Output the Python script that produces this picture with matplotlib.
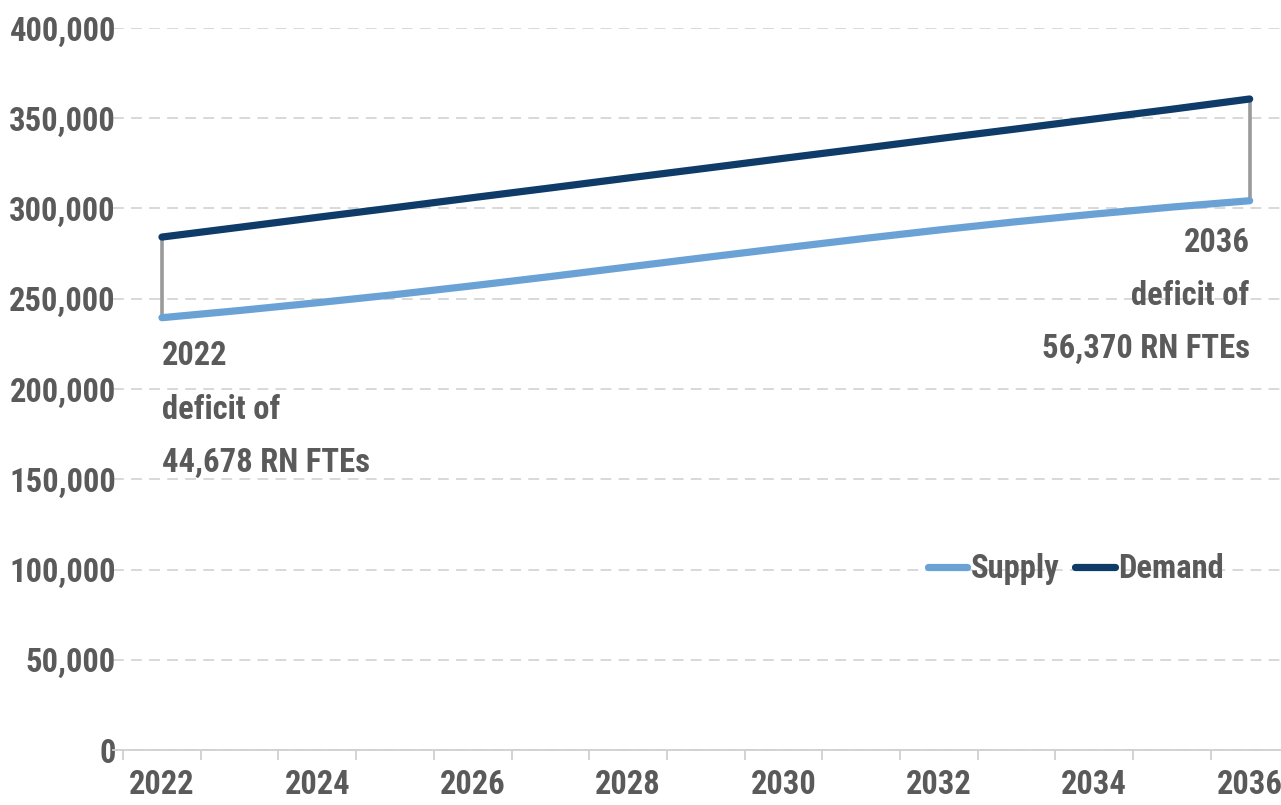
import matplotlib
matplotlib.use("Agg")
import matplotlib.pyplot as plt
from matplotlib.ticker import FuncFormatter, MultipleLocator, FixedLocator
import numpy as np

YEARS = list(range(2022, 2037))
SUPPLY = [239500, 243500, 247800, 252300, 257200, 262300, 267600, 272900,
          278100, 283200, 288100, 292700, 296900, 300800, 304300]
DEMAND = [284178, 289600, 295100, 300500, 306000, 311400, 316900, 322300,
          327800, 333200, 338700, 344100, 349600, 355000, 360670]
LABEL_YEARS = YEARS[::2]
NOTE_START = "2022\ndeficit of\n44,678 RN FTEs"
NOTE_END = "2036\ndeficit of\n56,370 RN FTEs"

SUPPLY_COLOR = "#6aa2d6"
DEMAND_COLOR = "#0f3b68"
TEXT_COLOR = "#5a5a5a"

plt.rcParams["font.family"] = ["Roboto Condensed", "Liberation Sans Narrow",
                               "DejaVu Sans Condensed", "DejaVu Sans"]
plt.rcParams["font.stretch"] = "condensed"
plt.rcParams["font.weight"] = "bold"

fig = plt.figure(figsize=(12.81, 8.05), dpi=100)
ax = fig.add_axes([113 / 1281, 55 / 805, 1175.5 / 1281, 722 / 805])

x = np.arange(len(YEARS))
# gap connectors at both ends
for i in (0, len(YEARS) - 1):
    ax.plot([x[i], x[i]], [SUPPLY[i], DEMAND[i]], color="#9a9a9a", lw=2.6,
            solid_capstyle="butt", zorder=2)
ax.plot(x, SUPPLY, color=SUPPLY_COLOR, lw=5.2, label="Supply",
        solid_capstyle="round", zorder=3)
ax.plot(x, DEMAND, color=DEMAND_COLOR, lw=5.2, label="Demand",
        solid_capstyle="round", zorder=3)

ax.set_xlim(-0.63, len(YEARS) - 0.5)
ax.set_ylim(0, 400000)
ax.yaxis.set_major_locator(MultipleLocator(50000))
ax.yaxis.set_major_formatter(FuncFormatter(lambda v, p: f"{int(v):,}"))
ax.grid(axis="y", color="#d6d6d6", lw=1.3, linestyle=(0, (6, 4)))
ax.set_axisbelow(True)

ax.xaxis.set_major_locator(FixedLocator([YEARS.index(y) for y in LABEL_YEARS]))
ax.set_xticklabels([str(y) for y in LABEL_YEARS])
ax.xaxis.set_minor_locator(FixedLocator(np.arange(-0.5, len(YEARS), 1.0)))
ax.tick_params(axis="x", which="major", length=0, pad=14, labelsize=23.5,
               labelcolor=TEXT_COLOR)
ax.tick_params(axis="x", which="minor", length=7, width=1.3, color="#d0d0d0")
ax.tick_params(axis="y", length=0, pad=-2, labelsize=23.5, labelcolor=TEXT_COLOR)

for side in ("top", "right", "left"):
    ax.spines[side].set_visible(False)
ax.spines["bottom"].set_color("#d0d0d0")
ax.spines["bottom"].set_linewidth(1.3)

ax.text(x[0], 227000, NOTE_START, ha="left", va="top", fontsize=23.5,
        color=TEXT_COLOR, linespacing=1.85)
ax.text(x[-1], 290000, NOTE_END, ha="right", va="top", fontsize=23.5,
        color=TEXT_COLOR, linespacing=1.85)

fig.legend(loc="center left", bbox_to_anchor=(928 / 1281, (805 - 569) / 805),
           ncol=2, frameon=False, fontsize=23.5, handlelength=1.2,
           handletextpad=0.1, columnspacing=0.5, labelcolor=TEXT_COLOR,
           borderaxespad=0, borderpad=0)

fig.savefig("out.png", dpi=100)
